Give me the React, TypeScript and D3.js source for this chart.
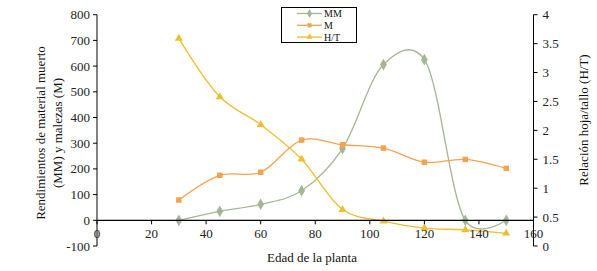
import React from "react";
import * as d3 from "d3";

const ages = [30, 45, 60, 75, 90, 105, 120, 135, 150];
const mmValues = [0, 35, 62, 115, 279, 606, 625, 0, 0];
const mValues = [79, 175, 187, 312, 294, 281, 226, 237, 202];
const htValues = [3.59, 2.58, 2.1, 1.5, 0.63, 0.43, 0.31, 0.28, 0.22];
const xTicks = [0, 20, 40, 60, 80, 100, 120, 140, 160];
const leftTicks = [-100, 0, 100, 200, 300, 400, 500, 600, 700, 800];
const rightTicks = [0, 0.5, 1, 1.5, 2, 2.5, 3, 3.5, 4];

const W = 597;
const H = 271;
const FONT = "Liberation Serif, DejaVu Serif, Times New Roman, serif";
const C_MM = "#a6b593";
const C_M = "#f5a24c";
const C_HT = "#ecbf2c";

export default function App() {
  const x = d3.scaleLinear().domain([0, 160]).range([97, 533.5]);
  const yL = d3.scaleLinear().domain([-100, 800]).range([246, 14.7]);
  const yR = d3.scaleLinear().domain([0, 4]).range([246, 14.7]);
  const curve = d3.curveCatmullRom.alpha(0.15);

  const lineL = d3
    .line<[number, number]>()
    .x((d) => x(d[0]))
    .y((d) => yL(d[1]))
    .curve(curve);
  const lineR = d3
    .line<[number, number]>()
    .x((d) => x(d[0]))
    .y((d) => yR(d[1]))
    .curve(curve);

  const mmPts = ages.map((a, i) => [a, mmValues[i]] as [number, number]);
  const mPts = ages.map((a, i) => [a, mValues[i]] as [number, number]);
  const htPts = ages.map((a, i) => [a, htValues[i]] as [number, number]);

  const diamond = d3.symbol().type(d3.symbolDiamond).size(40)() as string;
  const square = d3.symbol().type(d3.symbolSquare).size(30)() as string;
  const triangle = d3.symbol().type(d3.symbolTriangle).size(28)() as string;

  const x0 = x(0);
  const xEnd = x(160);
  const y0 = yL(0);

  const legendItems = [
    { label: "MM", color: C_MM, sym: diamond },
    { label: "M", color: C_M, sym: square },
    { label: "H/T", color: C_HT, sym: triangle },
  ];

  const txt = { fontFamily: FONT };

  return (
    <svg
      width={W}
      height={H}
      style={{ position: "absolute", left: 0, top: 0, background: "#fff", fontFamily: FONT }}
    >
      <rect x={0} y={0} width={W} height={H} fill="#fff" />
      {/* series */}
      <path d={lineL(mmPts) || ""} fill="none" stroke={C_MM} strokeWidth={1.3} />
      <path d={lineL(mPts) || ""} fill="none" stroke={C_M} strokeWidth={1.3} />
      <path d={lineR(htPts) || ""} fill="none" stroke={C_HT} strokeWidth={1.3} />
      {mmPts.map((p, i) => (
        <path key={"mm" + i} d={diamond} transform={`translate(${x(p[0])},${yL(p[1])})`} fill={C_MM} />
      ))}
      {mPts.map((p, i) => (
        <path key={"m" + i} d={square} transform={`translate(${x(p[0])},${yL(p[1])})`} fill={C_M} />
      ))}
      {htPts.map((p, i) => (
        <path key={"ht" + i} d={triangle} transform={`translate(${x(p[0])},${yR(p[1])})`} fill={C_HT} />
      ))}

      {/* left axis */}
      <line x1={x0} x2={x0} y1={yL(-100)} y2={yL(800)} stroke="#000" strokeWidth={1} />
      {leftTicks.map((t) => (
        <g key={"l" + t}>
          <line x1={x0 - 4} x2={x0} y1={yL(t)} y2={yL(t)} stroke="#000" />
          <text x={x0 - 7} y={yL(t)} dy="0.35em" textAnchor="end" fontSize={13} fill="#222" style={txt}>
            {t}
          </text>
        </g>
      ))}

      {/* right axis */}
      <line x1={xEnd} x2={xEnd} y1={yR(0)} y2={yR(4)} stroke="#000" strokeWidth={1} />
      {rightTicks.map((t) => (
        <g key={"r" + t}>
          <line x1={xEnd} x2={xEnd + 4} y1={yR(t)} y2={yR(t)} stroke="#000" />
          <text x={xEnd + 9} y={yR(t)} dy="0.35em" textAnchor="start" fontSize={13} fill="#222" style={txt}>
            {t}
          </text>
        </g>
      ))}

      {/* x axis at y=0 */}
      <line x1={x0} x2={xEnd} y1={y0} y2={y0} stroke="#000" strokeWidth={1.3} />
      {xTicks.map((t) => (
        <g key={"x" + t}>
          <line x1={x(t)} x2={x(t)} y1={y0} y2={y0 + 4} stroke="#000" />
          <text x={x(t)} y={y0 + 13} dy="0.35em" textAnchor="middle" fontSize={13} fill="#222" style={txt}>
            {t}
          </text>
        </g>
      ))}

      {/* axis titles */}
      <text x={312} y={257} dy="0.35em" textAnchor="middle" fontSize={13} fill="#111" style={txt}>
        Edad de la planta
      </text>
      <text
        transform={`translate(40,133) rotate(-90)`}
        dy="0.35em"
        textAnchor="middle"
        fontSize={13}
        fill="#111"
        style={txt}
      >
        Rendimientos de material  muerto
      </text>
      <text
        transform={`translate(57,133) rotate(-90)`}
        dy="0.35em"
        textAnchor="middle"
        fontSize={13}
        fill="#111"
        style={txt}
      >
        (MM) y malezas (M)
      </text>
      <text
        transform={`translate(583,120) rotate(-90)`}
        dy="0.35em"
        textAnchor="middle"
        fontSize={13}
        fill="#111"
        style={txt}
      >
        Relación hoja/tallo (H/T)
      </text>

      {/* legend */}
      <rect x={281.5} y={7.5} width={75} height={35} fill="#fff" stroke="#000" strokeWidth={1} />
      {legendItems.map((it, i) => {
        const ly = 13.5 + i * 11.8;
        return (
          <g key={it.label}>
            <line x1={297} x2={322} y1={ly} y2={ly} stroke={it.color} strokeWidth={1.3} />
            <path d={it.sym} transform={`translate(309.5,${ly}) scale(0.75)`} fill={it.color} />
            <text x={324} y={ly} dy="0.35em" fontSize={10} fill="#111" style={txt}>
              {it.label}
            </text>
          </g>
        );
      })}
    </svg>
  );
}
